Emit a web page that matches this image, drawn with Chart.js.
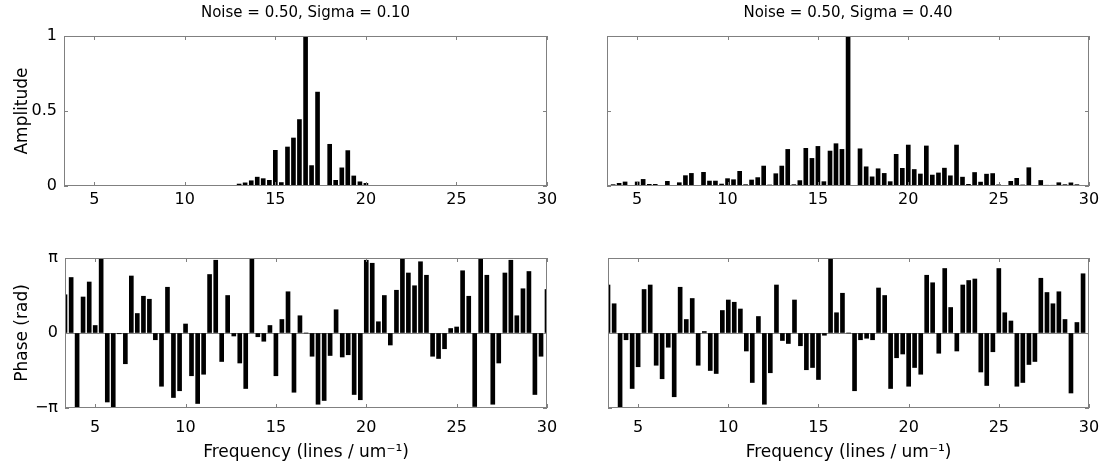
<!DOCTYPE html>
<html>
<head>
<meta charset="utf-8">
<script src="https://cdn.jsdelivr.net/npm/chart.js@4.4.1/dist/chart.umd.min.js"></script>
<style>
  body { margin: 0; background: #fff; }
  #wrap { position: relative; width: 1110px; height: 471px; overflow: hidden; }
  canvas { position: absolute; }
</style>
</head>
<body>
<div id="wrap">
  <canvas id="ampLow" width="560" height="232" style="left:0;top:0"></canvas>
  <canvas id="ampHigh" width="550" height="232" style="left:560px;top:0"></canvas>
  <canvas id="phaseLow" width="560" height="239" style="left:0;top:232px"></canvas>
  <canvas id="phaseHigh" width="550" height="239" style="left:560px;top:232px"></canvas>
</div>
<script>
// frequency of each bar (lines / um^-1)
const freq = [3.33, 3.67, 4, 4.33, 4.67, 5, 5.33, 5.67, 6, 6.33,
    6.67, 7, 7.33, 7.67, 8, 8.33, 8.67, 9, 9.33, 9.67,
    10, 10.33, 10.67, 11, 11.33, 11.67, 12, 12.33, 12.67, 13,
    13.33, 13.67, 14, 14.33, 14.67, 15, 15.33, 15.67, 16, 16.33,
    16.67, 17, 17.33, 17.67, 18, 18.33, 18.67, 19, 19.33, 19.67,
    20, 20.33, 20.67, 21, 21.33, 21.67, 22, 22.33, 22.67, 23,
    23.33, 23.67, 24, 24.33, 24.67, 25, 25.33, 25.67, 26, 26.33,
    26.67, 27, 27.33, 27.67, 28, 28.33, 28.67, 29, 29.33, 29.67, 30];

// amplitude, sigma = 0.10
const ampLowValues = [0, 0, 0, 0, 0, 0, 0.004, 0.004, 0.004, 0.004,
    0.004, 0.004, 0.004, 0.004, 0.004, 0.004, 0.004, 0.004, 0.004, 0.004,
    0.004, 0.004, 0.004, 0.004, 0.004, 0.004, 0.004, 0.004, 0.004, 0.013,
    0.021, 0.035, 0.059, 0.049, 0.038, 0.238, 0.023, 0.26, 0.32, 0.443,
    1.0, 0.136, 0.626, 0.004, 0.278, 0.038, 0.121, 0.236, 0.067, 0.028,
    0.018, 0.004, 0.004, 0.004, 0.004, 0.004, 0.004, 0.004, 0.004, 0.004,
    0.004, 0.004, 0.004, 0.004, 0.004, 0.004, 0.004, 0.004, 0.004, 0.004,
    0.004, 0.004, 0.004, 0, 0, 0, 0, 0, 0, 0, 0];

// amplitude, sigma = 0.40
const ampHighValues = [0.004, 0.009, 0.018, 0.027, 0.004, 0.027, 0.044, 0.011, 0.011, 0.002,
    0.031, 0.001, 0.022, 0.069, 0.084, 0.004, 0.091, 0.033, 0.033, 0.013,
    0.049, 0.042, 0.098, 0.009, 0.040, 0.056, 0.133, 0.007, 0.082, 0.133,
    0.244, 0.009, 0.036, 0.251, 0.184, 0.264, 0.029, 0.233, 0.282, 0.244,
    1.0, 0.004, 0.248, 0.128, 0.061, 0.115, 0.084, 0.029, 0.211, 0.118,
    0.273, 0.110, 0.080, 0.267, 0.073, 0.087, 0.119, 0.068, 0.273, 0.059,
    0.011, 0.090, 0.026, 0.079, 0.083, 0.008, 0.001, 0.031, 0.051, 0.007,
    0.122, 0.001, 0.037, 0.005, 0.005, 0.022, 0.009, 0.021, 0.009, 0.002, 0];

// phase in units of pi, sigma = 0.10
const phaseLowValues = [0.51, 0.74, -0.99, 0.48, 0.68, 0.10, 1.0, -0.92, -0.99, -0.01,
    -0.41, 0.76, 0.26, 0.49, 0.45, -0.09, -0.71, 0.61, -0.86, -0.77,
    0.12, -0.57, -0.94, -0.55, 0.78, 0.97, -0.38, 0.50, -0.04, -0.40,
    -0.74, 1.0, -0.05, -0.11, 0.10, -0.57, 0.18, 0.55, -0.79, 0.23,
    0, -0.31, -0.95, -0.90, -0.30, 0.31, -0.32, -0.29, -0.82, -0.89,
    0.97, 0.93, 0.15, 0.50, -0.16, 0.57, 1.0, 0.80, 0.63, 0.95,
    0.77, -0.31, -0.34, -0.21, 0.06, 0.08, 0.83, 0.49, -0.98, 0.99,
    0.77, -0.95, -0.40, 0.80, 0.97, 0.23, 0.59, 0.82, -0.82, -0.31, 0.58];

// phase in units of pi, sigma = 0.40
const phaseHighValues = [0.64, 0.39, -0.99, -0.09, -0.74, -0.45, 0.58, 0.64, -0.43, -0.61,
    -0.19, -0.85, 0.61, 0.18, 0.46, -0.43, 0.02, -0.50, -0.54, 0.30,
    0.44, 0.41, 0.32, -0.24, -0.66, 0.22, -0.95, -0.53, 0.64, -0.10,
    -0.14, 0.44, -0.17, -0.49, -0.46, -0.62, -0.03, 1.0, 0.27, 0.53,
    0, -0.77, -0.09, -0.07, -0.09, 0.60, 0.50, -0.74, -0.33, -0.28,
    -0.71, -0.46, -0.55, 0.77, 0.67, -0.27, 0.86, 0.34, -0.24, 0.64,
    0.70, 0.72, -0.52, -0.70, -0.25, 0.86, 0.27, 0.16, -0.71, -0.66,
    -0.42, -0.38, 0.73, 0.54, 0.39, 0.55, 0.18, -0.80, 0.14, 0.79, -0.01];

const xTicks = [5, 10, 15, 20, 25, 30];
const ampTicks = [0, 0.5, 1];
const phaseTicks = [-1, 0, 1];
const phaseTickLabels = ['−π', '0', 'π'];

const family = 'DejaVu Sans';
const tickFont = { family: family, size: 16 };
const labelFont = { family: family, size: 17 };

// MATLAB style box with inward tick marks
const boxPlugin = {
    id: 'box',
    afterDatasetsDraw: function (chart) {
        const ctx = chart.ctx;
        const a = chart.chartArea;
        const sx = chart.scales.x, sy = chart.scales.y;
        ctx.save();
        ctx.strokeStyle = '#808080';
        ctx.lineWidth = 1;
        ctx.strokeRect(a.left + 0.5, a.top + 0.5, a.right - a.left - 1, a.bottom - a.top - 1);
        ctx.beginPath();
        sx.ticks.forEach(function (t) {
            const px = Math.round(sx.getPixelForValue(t.value)) + 0.5;
            ctx.moveTo(px, a.bottom); ctx.lineTo(px, a.bottom - 4);
            ctx.moveTo(px, a.top); ctx.lineTo(px, a.top + 4);
        });
        sy.ticks.forEach(function (t) {
            const py = Math.round(sy.getPixelForValue(t.value)) + 0.5;
            ctx.moveTo(a.left, py); ctx.lineTo(a.left + 4, py);
            ctx.moveTo(a.right, py); ctx.lineTo(a.right - 4, py);
        });
        ctx.stroke();
        ctx.restore();
    }
};

function makePanel(id, values, cfg) {
    const isPhase = cfg.kind === 'phase';
    return new Chart(document.getElementById(id).getContext('2d'), {
        type: 'bar',
        data: {
            datasets: [{
                data: freq.map(function (f, i) { return { x: f, y: values[i] }; }),
                backgroundColor: '#000',
                borderWidth: 0,
                barThickness: 4,
                clip: 0
            }]
        },
        options: {
            responsive: false,
            animation: false,
            layout: { padding: { top: cfg.padTop, right: cfg.padRight, left: 0, bottom: 0 } },
            plugins: {
                legend: { display: false },
                tooltip: { enabled: false },
                title: {
                    display: !!cfg.title,
                    text: cfg.title || '',
                    fullSize: false,
                    color: '#000',
                    font: { family: family, size: 15, weight: 'normal', lineHeight: 1.333 },
                    padding: { top: 3, bottom: 13 }
                }
            },
            scales: {
                x: {
                    type: 'linear',
                    offset: false,
                    min: freq[0],
                    max: freq[freq.length - 1],
                    grid: { display: false, drawTicks: false },
                    border: { display: false },
                    afterBuildTicks: function (s) { s.ticks = xTicks.map(function (v) { return { value: v }; }); },
                    afterFit: function (s) { s.height = cfg.xHeight; },
                    // label centre sits padding + lineHeight/2 below the axis
                    ticks: {
                        color: '#000',
                        font: { family: family, size: 16, lineHeight: cfg.xLine },
                        padding: 2,
                        maxRotation: 0,
                        callback: function (v) { return v; }
                    },
                    title: {
                        display: !!cfg.xTitle,
                        text: cfg.xTitle || '',
                        color: '#000',
                        font: labelFont,
                        padding: { top: 0, bottom: 8 }
                    }
                },
                y: {
                    min: isPhase ? -1 : 0,
                    max: 1,
                    grid: {
                        display: isPhase,
                        drawTicks: false,
                        color: function (c) { return c.tick && c.tick.value === 0 ? '#808080' : 'rgba(0,0,0,0)'; }
                    },
                    border: { display: false },
                    afterBuildTicks: function (s) {
                        s.ticks = (isPhase ? phaseTicks : ampTicks).map(function (v) { return { value: v }; });
                    },
                    afterFit: function (s) { s.width = cfg.yWidth; },
                    ticks: {
                        display: cfg.showY,
                        color: '#000',
                        font: tickFont,
                        padding: 7,
                        callback: function (v, i) { return isPhase ? phaseTickLabels[i] : v; }
                    },
                    title: {
                        display: !!cfg.yTitle,
                        text: cfg.yTitle || '',
                        color: '#000',
                        font: labelFont,
                        padding: { top: 12, bottom: 0 }
                    }
                }
            }
        },
        plugins: [boxPlugin]
    });
}

makePanel('ampLow', ampLowValues, {
    kind: 'amp', title: 'Noise = 0.50, Sigma = 0.10', yTitle: 'Amplitude', showY: true,
    padTop: 0, padRight: 13, yWidth: 64, xHeight: 46, xLine: 1.5
});
makePanel('ampHigh', ampHighValues, {
    kind: 'amp', title: 'Noise = 0.50, Sigma = 0.40', showY: false,
    padTop: 0, padRight: 21, yWidth: 47, xHeight: 46, xLine: 1.5
});
makePanel('phaseLow', phaseLowValues, {
    kind: 'phase', yTitle: 'Phase (rad)', xTitle: 'Frequency (lines / um⁻¹)', showY: true,
    padTop: 26, padRight: 13, yWidth: 65, xHeight: 63, xLine: 2.25
});
makePanel('phaseHigh', phaseHighValues, {
    kind: 'phase', xTitle: 'Frequency (lines / um⁻¹)', showY: false,
    padTop: 26, padRight: 21, yWidth: 48, xHeight: 63, xLine: 2.25
});
</script>
</body>
</html>
